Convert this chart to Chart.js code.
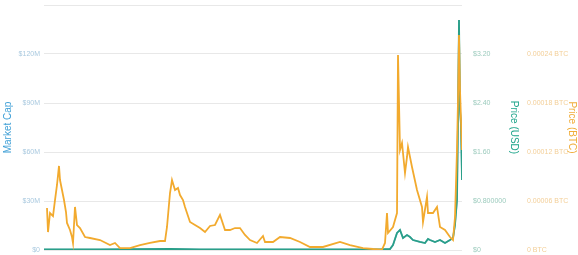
<!DOCTYPE html>
<html><head><meta charset="utf-8">
<script src="https://cdn.jsdelivr.net/npm/chart.js@4.4.1/dist/chart.umd.min.js"></script>
<style>html,body{margin:0;padding:0;background:#fff;overflow:hidden}</style>
</head><body>
<canvas id="c" width="578" height="255"></canvas>
<script>
// Day offsets from the start of the chart range, and readings
const btcDays = [3,4,6,9,11,13,15,16,18,20,22,23,26,28,29,31,33,36,41,46,56,66,71,76,86,96,106,116,121,123,126,128,131,134,136,139,141,146,151,156,161,166,171,176,181,186,191,196,201,206,213,219,221,229,236,246,256,266,279,296,306,319,329,338,341,343,344,349,353,354,356,358,361,363,364,368,373,378,379,383,384,389,393,396,401,406,409,411,413,414,415,416,417,418];
const btcPrice = [0.0000514,0.0000220,0.0000453,0.0000416,0.0000612,0.0000796,0.0001029,0.0000857,0.0000735,0.0000612,0.0000465,0.0000331,0.0000245,0.0000159,0.0000086,0.0000527,0.0000306,0.0000269,0.0000159,0.0000147,0.0000122,0.0000061,0.0000086,0.0000024,0.0000024,0.0000061,0.0000086,0.0000110,0.0000110,0.0000282,0.0000698,0.0000857,0.0000735,0.0000759,0.0000673,0.0000612,0.0000527,0.0000343,0.0000306,0.0000269,0.0000220,0.0000294,0.0000306,0.0000429,0.0000245,0.0000245,0.0000269,0.0000269,0.0000184,0.0000122,0.0000086,0.0000171,0.0000098,0.0000098,0.0000159,0.0000147,0.0000098,0.0000037,0.0000037,0.0000098,0.0000061,0.0000024,0.0000012,0.0000005,0.0000086,0.0000453,0.0000208,0.0000282,0.0000453,0.0002388,0.0001225,0.0001310,0.0000943,0.0001139,0.0001261,0.0001016,0.0000735,0.0000527,0.0000343,0.0000649,0.0000453,0.0000453,0.0000527,0.0000282,0.0000245,0.0000159,0.0000122,0.0000404,0.0001225,0.0001837,0.0002633,0.0001959,0.0001592,0.0001225];

const usdDays = [0,56,126,156,256,336,346,349,353,356,359,363,366,369,376,381,384,386,391,396,401,406,409,411,413,414,415,416,417,418];
const usdPrice = [0.008,0.008,0.016,0.008,0.008,0.008,0.016,0.082,0.278,0.327,0.196,0.245,0.212,0.163,0.131,0.114,0.180,0.163,0.131,0.163,0.114,0.163,0.196,0.408,0.816,2.122,3.755,2.286,2.041,1.143];

const capDays = [0,56,126,156,256,336,346,349,353,356,359,363,366,369,376,381,384,386,391,396,401,406,409,411,413,414,415,416,417,418];
const marketCapM = [0.3,0.3,0.6,0.3,0.3,0.3,0.6,3.1,10.4,12.2,7.3,9.2,8.0,6.1,4.9,4.3,6.7,6.1,4.9,6.1,4.3,6.1,7.3,15.3,30.6,79.6,140.8,85.7,76.5,42.9];

const capTicks = [0,30,60,90,120,150];
const capTickLabels = ['$0','$30M','$60M','$90M','$120M',''];
const usdTicks = [0,0.8,1.6,2.4,3.2,4.0];
const usdTickLabels = ['$0','$0.800000','$1.60','$2.40','$3.20',''];
const btcTicks = [0,0.00006,0.00012,0.00018,0.00024,0.0003];
const btcTickLabels = ['0 BTC','0.00006 BTC','0.00012 BTC','0.00018 BTC','0.00024 BTC',''];

const pairs = (xs, ys) => xs.map((x, i) => ({x: x, y: ys[i]}));
const FONT = '"Liberation Sans", Arial, sans-serif';

new Chart(document.getElementById('c'), {
  type: 'line',
  data: {
    datasets: [
      {label: 'Market Cap', data: pairs(capDays, marketCapM), yAxisID: 'yCap',
       borderColor: '#8cc3e3', borderWidth: 1.6, pointRadius: 0, tension: 0, order: 3},
      {label: 'Price (USD)', data: pairs(usdDays, usdPrice), yAxisID: 'yUsd',
       borderColor: '#2a9f88', borderWidth: 1.8, pointRadius: 0, tension: 0, order: 2},
      {label: 'Price (BTC)', data: pairs(btcDays, btcPrice), yAxisID: 'yBtc',
       borderColor: '#f2aa2e', borderWidth: 1.8, pointRadius: 0, tension: 0, order: 1}
    ]
  },
  options: {
    responsive: false,
    animation: false,
    layout: {autoPadding: false, padding: {top: 5, bottom: 5, left: 0, right: 0}},
    plugins: {legend: {display: false}, tooltip: {enabled: false}},
    scales: {
      x: {type: 'linear', min: 0, max: 418, display: false},
      yCap: {
        position: 'left', min: 0, max: 150,
        afterBuildTicks: s => { s.ticks = capTicks.map(v => ({value: v})); },
        afterFit: s => { s.width = 44; s.paddingTop = 0; s.paddingBottom = 0; },
        ticks: {padding: 4, color: '#a9c9df', font: {family: FONT, size: 7},
                callback: (v, i) => capTickLabels[i]},
        grid: {color: '#e8e8e8', drawTicks: false, lineWidth: 1},
        border: {display: false},
        title: {display: true, text: 'Market Cap', color: '#3e9fd6',
                font: {family: FONT, size: 10}, padding: {top: 2, bottom: 0}}
      },
      yUsd: {
        position: 'right', min: 0, max: 4,
        afterBuildTicks: s => { s.ticks = usdTicks.map(v => ({value: v})); },
        afterFit: s => { s.width = 58; s.paddingTop = 0; s.paddingBottom = 0; },
        ticks: {padding: 11, color: '#9ccbbd', font: {family: FONT, size: 7},
                callback: (v, i) => usdTickLabels[i]},
        grid: {display: false, drawTicks: false},
        border: {display: false},
        title: {display: true, text: 'Price (USD)', color: '#1fa58b',
                font: {family: FONT, size: 10}, padding: {top: 0, bottom: 0}}
      },
      yBtc: {
        position: 'right', min: 0, max: 0.0003,
        afterBuildTicks: s => { s.ticks = btcTicks.map(v => ({value: v})); },
        afterFit: s => { s.width = 58; s.paddingTop = 0; s.paddingBottom = 0; },
        ticks: {padding: 7, color: '#f3cf98', font: {family: FONT, size: 7},
                callback: (v, i) => btcTickLabels[i]},
        grid: {display: false, drawTicks: false},
        border: {display: false},
        title: {display: true, text: 'Price (BTC)', color: '#f0ad3a',
                font: {family: FONT, size: 10}, padding: {top: 0, bottom: 0}}
      }
    }
  }
});
</script>
</body></html>
